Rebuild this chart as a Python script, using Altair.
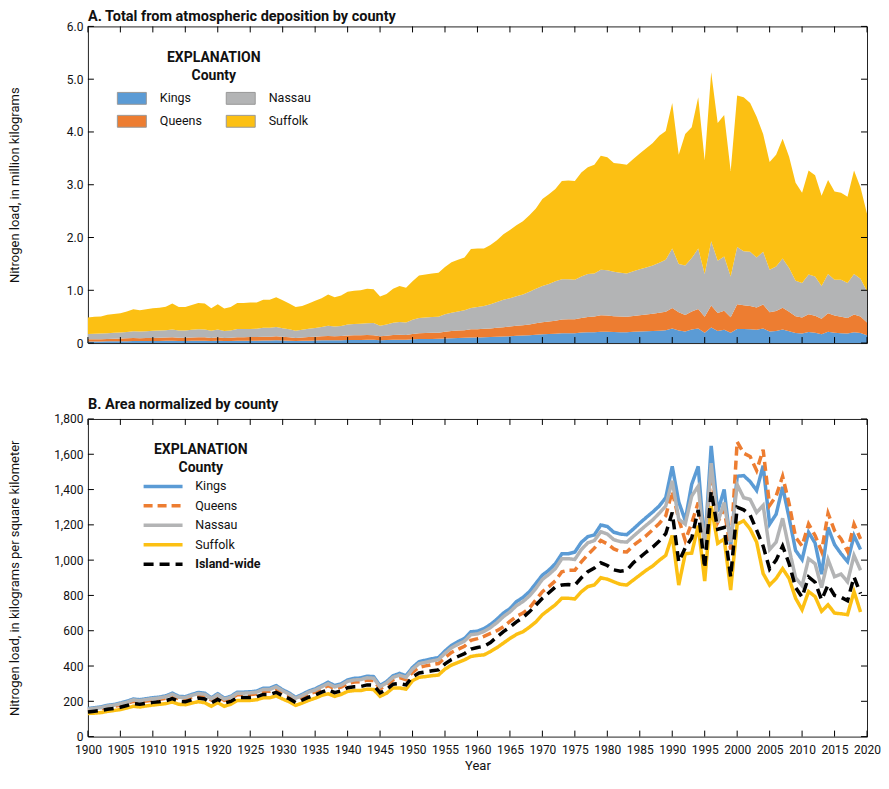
import altair as alt
import pandas as pd

FONT = "Roboto"

years_a = list(range(1900, 2021))
years_b = list(range(1900, 2020))
x_ticks = list(range(1900, 2021, 5))
a_y_ticks = [0, 1, 2, 3, 4, 5, 6]
b_y_ticks = [0, 200, 400, 600, 800, 1000, 1200, 1400, 1600, 1800]

counties = ["Kings", "Queens", "Nassau", "Suffolk"]

# Panel A: upper edge of each stacked band (million kilograms), 1900-2020
kings_top = [
    .029, .030, .030, .032, .033, .034, .036, .038, .038, .039,
    .040, .040, .042, .044, .041, .041, .043, .045, .044, .040,
    .044, .039, .041, .045, .045, .046, .046, .049, .049, .052,
    .048, .045, .040, .043, .046, .049, .052, .055, .052, .054,
    .058, .059, .060, .062, .061, .052, .056, .062, .064, .062,
    .071, .076, .078, .079, .081, .087, .093, .097, .100, .107,
    .107, .110, .114, .120, .126, .131, .138, .142, .148, .156,
    .165, .170, .176, .186, .186, .188, .198, .204, .206, .216,
    .214, .208, .207, .206, .212, .218, .224, .229, .235, .244,
    .276, .240, .221, .257, .276, .194, .296, .230, .252, .195,
    .266, .266, .260, .251, .276, .217, .227, .255, .223, .190,
    .181, .208, .197, .166, .213, .196, .186, .179, .205, .191,
    .150]
queens_top = [
    .071, .073, .074, .078, .081, .084, .089, .094, .093, .096,
    .098, .099, .103, .109, .101, .100, .106, .111, .109, .098,
    .108, .096, .101, .111, .111, .113, .114, .121, .121, .128,
    .118, .110, .098, .106, .114, .120, .128, .136, .128, .133,
    .142, .146, .147, .152, .150, .128, .138, .152, .158, .152,
    .173, .186, .190, .193, .197, .212, .227, .236, .243, .260,
    .262, .269, .278, .288, .300, .314, .329, .338, .352, .373,
    .395, .408, .423, .448, .450, .452, .475, .493, .505, .527,
    .520, .506, .501, .499, .515, .529, .543, .557, .573, .594,
    .665, .585, .532, .596, .647, .497, .714, .570, .613, .490,
    .734, .716, .704, .673, .731, .584, .609, .668, .593, .506,
    .483, .545, .516, .460, .567, .523, .500, .473, .542, .505,
    .390]
nassau_top = [
    .170, .175, .180, .188, .193, .200, .210, .224, .220, .226,
    .232, .236, .243, .258, .240, .238, .251, .263, .258, .231,
    .256, .229, .240, .265, .265, .267, .271, .288, .288, .303,
    .280, .260, .234, .251, .271, .285, .305, .330, .315, .325,
    .350, .360, .365, .375, .380, .330, .350, .385, .400, .390,
    .440, .475, .485, .495, .500, .545, .575, .600, .620, .665,
    .685, .700, .735, .780, .820, .850, .885, .920, .970, 1.030,
    1.080, 1.120, 1.170, 1.210, 1.210, 1.200, 1.260, 1.310, 1.320, 1.390,
    1.380, 1.350, 1.330, 1.320, 1.360, 1.400, 1.430, 1.470, 1.520, 1.580,
    1.790, 1.500, 1.470, 1.610, 1.790, 1.310, 1.930, 1.560, 1.640, 1.260,
    1.820, 1.740, 1.730, 1.620, 1.730, 1.390, 1.450, 1.600, 1.420, 1.180,
    1.140, 1.300, 1.260, 1.080, 1.310, 1.200, 1.200, 1.140, 1.310, 1.220,
    0.980]
suffolk_top = [
    .486, .500, .505, .535, .550, .567, .600, .640, .620, .640,
    .660, .670, .690, .750, .685, .685, .720, .760, .750, .660,
    .735, .655, .685, .760, .760, .770, .770, .820, .820, .870,
    .810, .750, .685, .700, .750, .800, .850, .920, .870, .900,
    .970, .990, 1.000, 1.030, 1.020, .880, .930, 1.030, 1.080, 1.050,
    1.170, 1.280, 1.300, 1.320, 1.330, 1.440, 1.530, 1.580, 1.620, 1.780,
    1.790, 1.790, 1.860, 1.950, 2.060, 2.140, 2.230, 2.310, 2.420, 2.550,
    2.730, 2.820, 2.920, 3.070, 3.080, 3.070, 3.230, 3.330, 3.380, 3.550,
    3.520, 3.410, 3.400, 3.380, 3.490, 3.590, 3.690, 3.790, 3.930, 4.020,
    4.550, 3.570, 3.960, 4.090, 4.660, 3.460, 5.130, 4.170, 4.320, 3.260,
    4.690, 4.660, 4.550, 4.290, 3.960, 3.430, 3.570, 3.870, 3.530, 3.040,
    2.850, 3.270, 3.180, 2.790, 3.090, 2.870, 2.850, 2.770, 3.270, 2.950,
    2.450]

# Panel B: kilograms per square kilometer, 1900-2019
kings_norm = [
    159, 164, 168, 177, 182, 190, 200, 213, 209, 215,
    220, 224, 231, 246, 228, 226, 239, 250, 246, 220,
    243, 218, 228, 252, 252, 254, 258, 274, 274, 289,
    265, 247, 222, 239, 258, 271, 289, 308, 289, 299,
    321, 330, 332, 342, 340, 289, 312, 345, 358, 345,
    392, 424, 433, 441, 448, 485, 517, 538, 556, 594,
    597, 612, 635, 665, 700, 725, 765, 788, 821, 868,
    915, 943, 980, 1036, 1036, 1046, 1101, 1133, 1143, 1199,
    1191, 1158, 1148, 1144, 1176, 1210, 1242, 1273, 1307, 1354,
    1531, 1330, 1225, 1430, 1531, 1080, 1647, 1275, 1400, 1083,
    1475, 1479, 1445, 1395, 1535, 1204, 1260, 1415, 1240, 1055,
    1003, 1158, 1097, 920, 1185, 1088, 1036, 992, 1139, 1060]
queens_norm = [
    149, 154, 158, 166, 171, 178, 188, 200, 196, 202,
    207, 210, 217, 231, 214, 212, 224, 235, 231, 207,
    228, 205, 214, 237, 237, 239, 242, 257, 257, 271,
    249, 232, 208, 224, 242, 254, 271, 289, 271, 281,
    301, 309, 311, 320, 318, 271, 292, 322, 334, 322,
    364, 393, 401, 408, 414, 448, 477, 495, 512, 546,
    555, 568, 585, 600, 622, 653, 681, 700, 728, 775,
    821, 850, 883, 934, 943, 943, 990, 1031, 1068, 1111,
    1092, 1064, 1049, 1046, 1083, 1111, 1139, 1172, 1208, 1251,
    1391, 1232, 1111, 1210, 1326, 1083, 1494, 1214, 1288, 1060,
    1671, 1606, 1587, 1508, 1626, 1310, 1363, 1475, 1320, 1130,
    1080, 1205, 1140, 1050, 1265, 1167, 1120, 1050, 1204, 1120]
nassau_norm = [
    155, 160, 164, 173, 178, 186, 195, 208, 204, 210,
    215, 219, 226, 240, 223, 221, 233, 244, 240, 215,
    237, 213, 223, 246, 246, 248, 252, 267, 267, 282,
    259, 241, 217, 233, 252, 264, 282, 300, 282, 292,
    313, 321, 323, 333, 331, 282, 304, 336, 348, 336,
    382, 413, 421, 429, 436, 472, 503, 523, 541, 578,
    582, 596, 618, 646, 680, 707, 742, 765, 797, 840,
    891, 919, 952, 1008, 1008, 1004, 1060, 1098, 1111, 1161,
    1148, 1116, 1105, 1102, 1135, 1167, 1198, 1228, 1266, 1307,
    1450, 1232, 1204, 1363, 1419, 1064, 1550, 1214, 1326, 1102,
    1428, 1354, 1344, 1270, 1310, 1060, 1102, 1237, 1064, 900,
    855, 1008, 980, 845, 1003, 906, 921, 877, 1027, 943]
suffolk_norm = [
    131, 133, 136, 143, 148, 153, 162, 172, 168, 174,
    179, 183, 187, 196, 183, 181, 190, 198, 192, 172,
    192, 172, 183, 205, 205, 205, 209, 220, 220, 231,
    213, 198, 177, 190, 205, 218, 233, 243, 228, 239,
    256, 261, 261, 269, 267, 228, 246, 276, 276, 269,
    317, 336, 340, 345, 349, 383, 405, 420, 435, 454,
    460, 463, 482, 504, 530, 556, 579, 594, 620, 650,
    691, 719, 747, 784, 784, 780, 821, 850, 859, 900,
    892, 877, 863, 859, 887, 915, 943, 967, 999, 1027,
    1140, 859, 1036, 1040, 1195, 881, 1307, 1095, 1120, 831,
    1204, 1223, 1176, 1102, 924, 859, 896, 952, 896, 784,
    719, 822, 794, 710, 747, 700, 696, 691, 822, 706]
island_norm = [
    140, 144, 148, 155, 160, 166, 176, 187, 183, 189,
    194, 197, 203, 215, 200, 198, 209, 218, 213, 191,
    211, 190, 199, 221, 221, 222, 226, 239, 239, 251,
    231, 215, 193, 207, 223, 236, 252, 266, 249, 259,
    277, 283, 284, 293, 291, 248, 267, 297, 301, 293,
    339, 361, 367, 373, 378, 412, 437, 454, 470, 496,
    505, 512, 533, 565, 595, 620, 650, 675, 707, 745,
    784, 815, 848, 859, 862, 858, 900, 935, 955, 985,
    970, 945, 937, 943, 985, 1015, 1046, 1074, 1108, 1150,
    1270, 990, 1070, 1125, 1285, 955, 1391, 1175, 1185, 905,
    1300, 1285, 1255, 1170, 1080, 950, 1000, 1080, 980, 845,
    790, 905, 875, 775, 860, 800, 790, 770, 905, 810]

W = 780
HA, HB = 317, 318
TICK = 6

# ---------- Panel A data ----------
rows = []
prev = [0.0] * len(years_a)
for name, top in zip(counties, [kings_top, queens_top, nassau_top, suffolk_top]):
    for yr, lo, hi in zip(years_a, prev, top):
        rows.append({"year": yr, "county": name, "lower": lo, "upper": hi})
    prev = top
dfa = pd.DataFrame(rows)

# ---------- Panel B data ----------
series_b = ["Kings", "Queens", "Nassau", "Suffolk", "Island-wide"]
rows = []
for name, vals in zip(series_b, [kings_norm, queens_norm, nassau_norm, suffolk_norm, island_norm]):
    for yr, v in zip(years_b, vals):
        rows.append({"year": yr, "county": name, "value": v})
dfb = pd.DataFrame(rows)

xscale = alt.Scale(domain=[1900, 2020], nice=False, zero=False)
rect_path = "M-1,-0.41L1,-0.41L1,0.41L-1,0.41Z"
line_path = "M-1,0L3,0"


def inward_ticks(yfield, yvals, yscale, h):
    """Short tick marks pointing into the frame on all four sides."""
    dx = pd.DataFrame({"year": x_ticks})
    dy = pd.DataFrame({yfield: yvals})
    base_x = alt.Chart(dx).mark_rule(color="black", strokeWidth=1)
    base_y = alt.Chart(dy).mark_rule(color="black", strokeWidth=1)
    xenc = alt.X("year:Q", scale=xscale, axis=None)
    yenc = alt.Y(f"{yfield}:Q", scale=yscale, axis=None)
    return [
        base_x.encode(x=xenc, y=alt.value(h), y2=alt.value(h - TICK)),
        base_x.encode(x=xenc, y=alt.value(0), y2=alt.value(TICK)),
        base_y.encode(y=yenc, x=alt.value(0), x2=alt.value(TICK)),
        base_y.encode(y=yenc, x=alt.value(W), x2=alt.value(W - TICK)),
    ]


ya_scale = alt.Scale(domain=[0, 6], nice=False)
area = alt.Chart(dfa).mark_area(opacity=1).encode(
    x=alt.X("year:Q", scale=xscale,
            axis=alt.Axis(values=x_ticks, labels=False, ticks=False, domain=False,
                          grid=False, title=None)),
    y=alt.Y("upper:Q", scale=ya_scale, stack=None,
            axis=alt.Axis(values=a_y_ticks, ticks=False, domain=False, grid=False,
                          labelOverlap=False,
                          labelExpr="datum.value == 0 ? '0' : format(datum.value, '.1f')",
                          labelPadding=5, labelFontSize=12,
                          title="Nitrogen load, in million kilograms",
                          titleX=-66, titleFontSize=13, titleFontWeight="normal")),
    y2="lower:Q",
    color=alt.Color("county:N",
                    scale=alt.Scale(domain=["Kings", "Queens", "Nassau", "Suffolk"],
                                    range=["#5B9BD5", "#ED7D31", "#B3B4B5", "#FCC013"]),
                    legend=alt.Legend(title=["EXPLANATION", "County"], orient="none",
                                      legendX=29, legendY=25, columns=2,
                                      symbolType=rect_path, symbolSize=841,
                                      symbolStrokeColor="#999999", symbolStrokeWidth=1,
                                      symbolOpacity=1, labelFontSize=12.5, labelOffset=13,
                                      columnPadding=21, rowPadding=-1,
                                      titleFontSize=14, titleFontWeight="bold",
                                      titleAlign="center", titleAnchor="middle",
                                      titleLineHeight=18, titlePadding=0)),
)

panel_a = alt.layer(area, *inward_ticks("upper", a_y_ticks, ya_scale, HA)).resolve_axis(
    x="independent", y="independent"
).properties(
    width=W, height=HA,
    title=alt.TitleParams("A.  Total from atmospheric deposition by county",
                          anchor="start", frame="group", fontSize=14.5,
                          fontWeight="bold", offset=-4),
)

yb_scale = alt.Scale(domain=[0, 1800], nice=False)
legend_b = alt.Legend(title=["EXPLANATION", "County"], orient="none",
                      legendX=54, legendY=24, symbolType=line_path, symbolSize=380,
                      symbolStrokeWidth=3.5, labelFontSize=12.5, labelOffset=30.5,
                      rowPadding=0.5, titleFontSize=14, titleFontWeight="bold",
                      titleAlign="center", titleAnchor="middle", titleLineHeight=18,
                      titlePadding=0,
                      labelFontWeight={"expr": "datum.label == 'Island-wide' ? 'bold' : 'normal'"})
lines = alt.Chart(dfb).mark_line(strokeWidth=3.5, strokeCap="butt").encode(
    x=alt.X("year:Q", scale=xscale,
            axis=alt.Axis(values=x_ticks, format="d", ticks=False, domain=False, grid=False,
                          labelOverlap=False, labelFlush=False,
                          labelPadding=8, labelFontSize=12, title="Year",
                          titleFontSize=13, titleFontWeight="normal", titlePadding=4)),
    y=alt.Y("value:Q", scale=yb_scale,
            axis=alt.Axis(values=b_y_ticks, format=",d", ticks=False, domain=False, grid=False,
                          labelOverlap=False,
                          labelPadding=5, labelFontSize=12,
                          title="Nitrogen load, in kilograms per square kilometer",
                          titleX=-66, titleFontSize=13, titleFontWeight="normal")),
    color=alt.Color("county:N",
                    scale=alt.Scale(domain=series_b,
                                    range=["#5B9BD5", "#ED7D31", "#B3B4B5", "#FCC013", "#000000"]),
                    legend=legend_b),
    strokeDash=alt.StrokeDash("county:N",
                              scale=alt.Scale(domain=series_b,
                                              range=[[1, 0], [9, 5], [1, 0], [1, 0], [10, 6]]),
                              legend=legend_b),
)

panel_b = alt.layer(lines, *inward_ticks("value", b_y_ticks, yb_scale, HB)).resolve_axis(
    x="independent", y="independent"
).properties(
    width=W, height=HB,
    title=alt.TitleParams("B.  Area normalized by county",
                          anchor="start", frame="group", fontSize=14.5,
                          fontWeight="bold", offset=0),
)

chart = alt.vconcat(panel_a, panel_b, spacing=47).resolve_scale(
    color="independent", strokeDash="independent"
).properties(
    padding={"left": 0, "top": 0, "right": 0, "bottom": 0},
    background="white",
).configure(
    font=FONT,
).configure_view(
    stroke="#222222", strokeWidth=1,
).configure_axis(
    labelFont=FONT, titleFont=FONT, labelColor="#111", titleColor="#111",
    labelOverlap=False,
).configure_legend(
    labelFont=FONT, titleFont=FONT, labelColor="#111", titleColor="#111",
).configure_title(
    font=FONT, color="#111",
)

chart.save("out.html", embed_options={"renderer": "svg", "actions": False})
